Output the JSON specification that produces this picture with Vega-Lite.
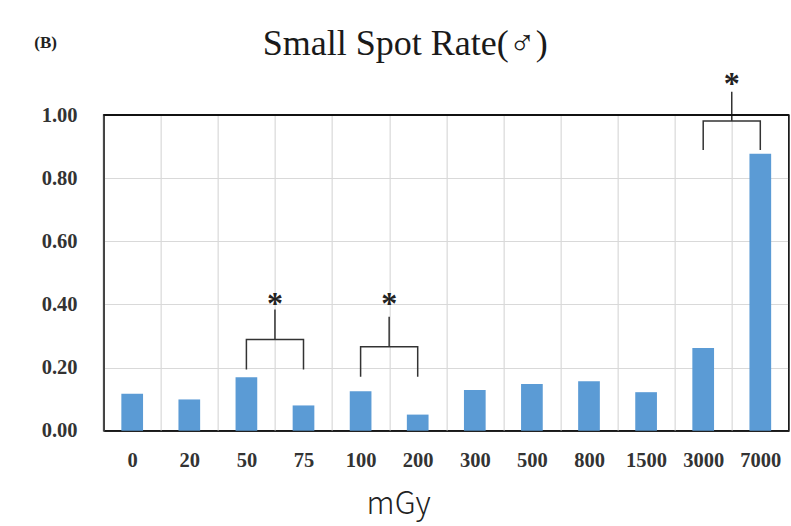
{
  "$schema": "https://vega.github.io/schema/vega-lite/v6.json",
  "width": 685.2,
  "height": 315.7,
  "autosize": {"type": "none"},
  "padding": {"left": 103.65, "top": 115, "right": 2.15, "bottom": 95.3},
  "background": "white",
  "title": {
    "text": "Small Spot Rate(♂)",
    "font": "Liberation Serif",
    "fontSize": 36,
    "fontWeight": "normal",
    "color": "#1a1a1a",
    "anchor": "middle",
    "dx": -41,
    "offset": -58,
    "baseline": "alphabetic"
  },
  "config": {
    "view": {"stroke": "#111", "strokeWidth": 1.5}
  },
  "datasets": {
    "bars": [
      {"dose": "0", "v": 0.117},
      {"dose": "20", "v": 0.099},
      {"dose": "50", "v": 0.169},
      {"dose": "75", "v": 0.080},
      {"dose": "100", "v": 0.125},
      {"dose": "200", "v": 0.051},
      {"dose": "300", "v": 0.129},
      {"dose": "500", "v": 0.148},
      {"dose": "800", "v": 0.157},
      {"dose": "1500", "v": 0.122},
      {"dose": "3000", "v": 0.262},
      {"dose": "7000", "v": 0.877}
    ],
    "brackets": [
      {"grp": "a", "ord": 1, "dose": "50", "v": 0.194},
      {"grp": "a", "ord": 2, "dose": "50", "v": 0.289},
      {"grp": "a", "ord": 3, "dose": "75", "v": 0.289},
      {"grp": "a", "ord": 4, "dose": "75", "v": 0.194},
      {"grp": "b", "ord": 1, "dose": "100", "v": 0.171},
      {"grp": "b", "ord": 2, "dose": "100", "v": 0.266},
      {"grp": "b", "ord": 3, "dose": "200", "v": 0.266},
      {"grp": "b", "ord": 4, "dose": "200", "v": 0.171},
      {"grp": "c", "ord": 1, "dose": "3000", "v": 0.889},
      {"grp": "c", "ord": 2, "dose": "3000", "v": 0.981},
      {"grp": "c", "ord": 3, "dose": "7000", "v": 0.981},
      {"grp": "c", "ord": 4, "dose": "7000", "v": 0.889}
    ],
    "stems": [
      {"dose": "75", "v": 0.289, "v2": 0.384, "star": 0.371},
      {"dose": "200", "v": 0.266, "v2": 0.361, "star": 0.371},
      {"dose": "7000", "v": 0.981, "v2": 1.074, "star": 1.068}
    ],
    "frame": [
      {"dose": "7000", "v": 1}
    ]
  },
  "layer": [
    {
      "encoding": {
        "x": {
          "field": "dose",
          "type": "nominal",
          "sort": ["0", "20", "50", "75", "100", "200", "300", "500", "800", "1500", "3000", "7000"],
          "scale": {"paddingInner": 0, "paddingOuter": 0},
          "axis": {
            "title": "mGy",
            "titleX": 294.5,
            "titleY": 82.3,
            "titleAlign": "center",
            "titleBaseline": "alphabetic",
            "titleFont": "Noto Sans CJK JP",
            "titleFontSize": 31,
            "titleFontWeight": 300,
            "titleColor": "#222",
            "labelAngle": 0,
            "labelFont": "Liberation Serif",
            "labelFontSize": 20.5,
            "labelFontWeight": "bold",
            "labelColor": "#333",
            "labelBaseline": "alphabetic",
            "labelPadding": 36,
            "ticks": false,
            "tickBand": "extent",
            "grid": true,
            "gridColor": "#d9d9d9",
            "gridWidth": 1.2,
            "domainColor": "#222",
            "domainWidth": 1.5
          }
        }
      },
      "layer": [
        {
          "data": {"name": "bars"},
          "mark": {"type": "bar", "color": "#5b9bd5", "width": {"band": 0.38}},
          "encoding": {
            "y": {
              "field": "v",
              "type": "quantitative",
              "scale": {"domain": [0, 1], "nice": false},
              "axis": {
                "title": "(B)",
                "titleAngle": 0,
                "titleX": -58.6,
                "titleY": -73,
                "titleAlign": "center",
                "titleBaseline": "middle",
                "titleFont": "Liberation Serif",
                "titleFontSize": 17,
                "titleFontWeight": "bold",
                "titleColor": "#222",
                "values": [0, 0.2, 0.4, 0.6, 0.8, 1],
                "format": ".2f",
                "labelFont": "Liberation Serif",
                "labelFontSize": 20.5,
                "labelFontWeight": "bold",
                "labelColor": "#333",
                "labelPadding": 26.6,
                "ticks": false,
                "domainColor": "#333",
                "domainWidth": 1.5,
                "gridColor": "#d9d9d9",
                "gridWidth": 1.2
              }
            }
          }
        },
        {
          "data": {"name": "brackets"},
          "mark": {"type": "line", "color": "#333", "strokeWidth": 1.5},
          "encoding": {
            "y": {"field": "v", "type": "quantitative", "scale": {"domain": [0, 1], "nice": false}},
            "detail": {"field": "grp"},
            "order": {"field": "ord", "type": "quantitative"}
          }
        },
        {
          "data": {"name": "stems"},
          "mark": {"type": "rule", "color": "#333", "strokeWidth": 1.5},
          "encoding": {
            "x": {"field": "dose", "type": "nominal", "bandPosition": 0, "sort": ["0", "20", "50", "75", "100", "200", "300", "500", "800", "1500", "3000", "7000"]},
            "y": {"field": "v", "type": "quantitative", "scale": {"domain": [0, 1], "nice": false}},
            "y2": {"field": "v2"}
          }
        },
        {
          "data": {"name": "stems"},
          "mark": {"type": "text", "text": "*", "font": "Liberation Serif", "fontSize": 32, "fontWeight": "bold", "color": "#222", "align": "center", "baseline": "alphabetic"},
          "encoding": {
            "x": {"field": "dose", "type": "nominal", "bandPosition": 0, "sort": ["0", "20", "50", "75", "100", "200", "300", "500", "800", "1500", "3000", "7000"]},
            "y": {"field": "star", "type": "quantitative", "scale": {"domain": [0, 1], "nice": false}}
          }
        },
        {
          "data": {"name": "frame"},
          "mark": {"type": "rule", "color": "#111", "strokeWidth": 1.5},
          "encoding": {
            "x": {"field": "dose", "type": "nominal", "bandPosition": 1, "sort": ["0", "20", "50", "75", "100", "200", "300", "500", "800", "1500", "3000", "7000"]}
          }
        }
      ]
    },
    {
      "data": {"name": "frame"},
      "mark": {"type": "rule", "color": "#111", "strokeWidth": 2},
      "encoding": {
        "y": {"field": "v", "type": "quantitative", "scale": {"domain": [0, 1], "nice": false}}
      }
    }
  ]
}
